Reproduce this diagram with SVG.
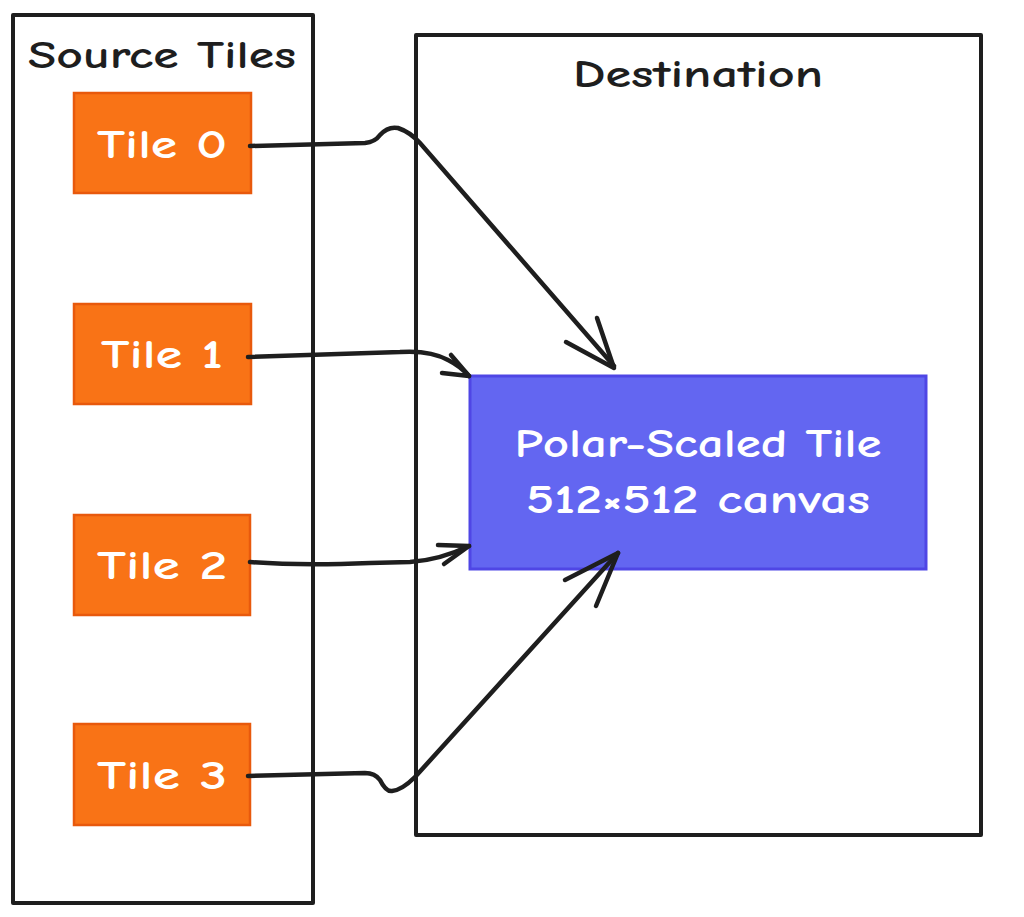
<svg xmlns="http://www.w3.org/2000/svg" width="1024" height="917" viewBox="0 0 1024 917">
<style>
.frame{fill:#ffffff;stroke:#1e1e1e;stroke-width:4;stroke-linejoin:round}
.tile{fill:#f97316;stroke:#e8590c;stroke-width:2.5}
.main{fill:#6366f1;stroke:#4f46e5;stroke-width:3}
.lbl{font-family:"Comic Neue","Lato","Liberation Sans",sans-serif;text-anchor:middle;font-weight:bold}
.dark{fill:#1e1e1e;font-size:39px}
.light{fill:#ffffff;font-size:41px}
.conn{fill:none;stroke:#1e1e1e;stroke-width:4.5;stroke-linecap:round;stroke-linejoin:round}
</style>
<rect width="1024" height="917" fill="#ffffff"/>
<g id="source-tiles">
<rect class="frame" x="13" y="15" width="300" height="888"/>
<text class="lbl dark" x="162" y="68" textLength="268" lengthAdjust="spacingAndGlyphs">Source Tiles</text>
</g>
<g id="destination">
<rect class="frame" x="416" y="35" width="565" height="800"/>
<text class="lbl dark" x="698" y="87" textLength="250" lengthAdjust="spacingAndGlyphs">Destination</text>
</g>
<g id="tile0">
<rect class="tile" x="74" y="93" width="177" height="100"/>
<text class="lbl light" x="162" y="158" textLength="130" lengthAdjust="spacingAndGlyphs">Tile 0</text>
</g>
<g id="tile1">
<rect class="tile" x="74" y="304" width="177" height="100"/>
<text class="lbl light" x="162" y="368" textLength="122" lengthAdjust="spacingAndGlyphs">Tile 1</text>
</g>
<g id="tile2">
<rect class="tile" x="74" y="515" width="176" height="100"/>
<text class="lbl light" x="162" y="579" textLength="130" lengthAdjust="spacingAndGlyphs">Tile 2</text>
</g>
<g id="tile3">
<rect class="tile" x="74" y="724" width="176" height="101"/>
<text class="lbl light" x="162" y="789" textLength="130" lengthAdjust="spacingAndGlyphs">Tile 3</text>
</g>
<g id="polar-scaled-tile">
<rect class="main" x="470" y="376" width="456" height="193"/>
<text class="lbl light" x="698" y="457" textLength="367" lengthAdjust="spacingAndGlyphs">Polar-Scaled Tile</text>
<text class="lbl light" x="698" y="513" textLength="344" lengthAdjust="spacingAndGlyphs">512×512 canvas</text>
</g>
<g id="connectors">
<path class="conn" d="M250 146 L365 143 Q375 142 380 135 Q388 126 398 128 Q410 132 420 143 L614 366"/>
<polyline class="conn" points="566,342 614,368 597,318"/>
<path class="conn" d="M248 357 L400 352 Q430 350 448 360 Q460 366 469 376"/>
<polyline class="conn" points="442,373 469,376 451,355"/>
<path class="conn" d="M250 562 Q300 566 370 563 L410 562 Q440 560 469 546"/>
<polyline class="conn" points="438,545 469,546 444,564"/>
<path class="conn" d="M248 776 L365 773 Q375 773 380 780 Q386 792 392 791 Q402 790 415 777 L618 553"/>
<polyline class="conn" points="565,580 618,553 596,606"/>
</g>
</svg>
